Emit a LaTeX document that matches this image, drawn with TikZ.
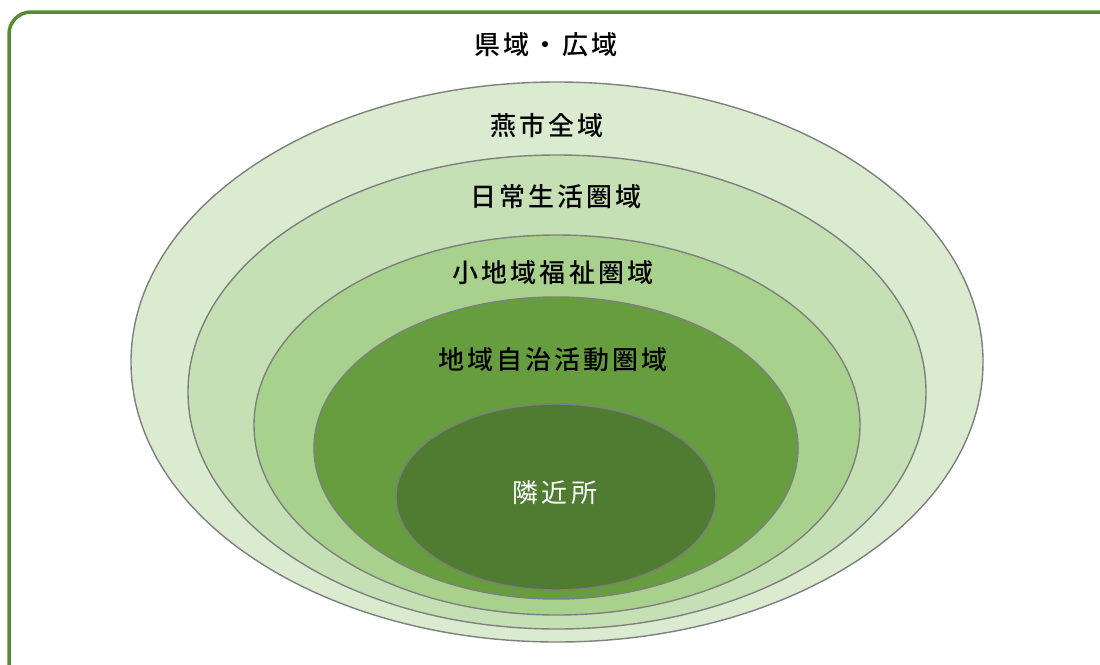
\documentclass[tikz,border=0pt]{standalone}
\usepackage{fontspec}
\newfontfamily\jp[LetterSpace=12,UprightFont=* Medium]{Noto Sans CJK JP}
\newfontfamily\jpl[LetterSpace=12]{Noto Sans CJK JP}
\definecolor{frame}{HTML}{588A36}
\definecolor{eA}{HTML}{DAEBCF}
\definecolor{eB}{HTML}{C6E0B5}
\definecolor{eC}{HTML}{A9D18E}
\definecolor{eD}{HTML}{669D3F}
\definecolor{eE}{HTML}{507C32}
\definecolor{edge}{HTML}{7F7F7F}
\tikzset{ring/.style={draw=edge,line width=1.4pt},
lbl/.style={font=\jp\fontsize{26}{29}\selectfont,inner sep=0pt}}
\begin{document}
\begin{tikzpicture}[x=1pt,y=-1pt]
\useasboundingbox (0,0) rectangle (1100,664);
\begin{scope}
\clip (0,0) rectangle (1100,664);
\draw[frame,line width=3.5pt,rounded corners=22pt] (9,12) rectangle (1125,690);
\end{scope}
\path[ring,fill=eA] (557,362) ellipse [x radius=426,y radius=280];
\path[ring,fill=eB] (557,392) ellipse [x radius=369,y radius=237];
\path[ring,fill=eC] (557,425) ellipse [x radius=303,y radius=190];
\path[ring,fill=eD] (556,448) ellipse [x radius=242,y radius=151];
\path[ring,fill=eE] (556,497) ellipse [x radius=160,y radius=93];
\node[lbl] (t0) at (546,45) {県域・広域};
\node[lbl] (t1) at (547,126) {燕市全域};
\node[lbl] (t2) at (556,197) {日常生活圏域};
\node[lbl] (t3) at (553,273) {小地域福祉圏域};
\node[lbl] (t4) at (553,360) {地域自治活動圏域};
\node[lbl,font=\jpl\fontsize{26}{29}\selectfont,text=white] (t5) at (555,493) {隣近所};
\end{tikzpicture}
\end{document}
